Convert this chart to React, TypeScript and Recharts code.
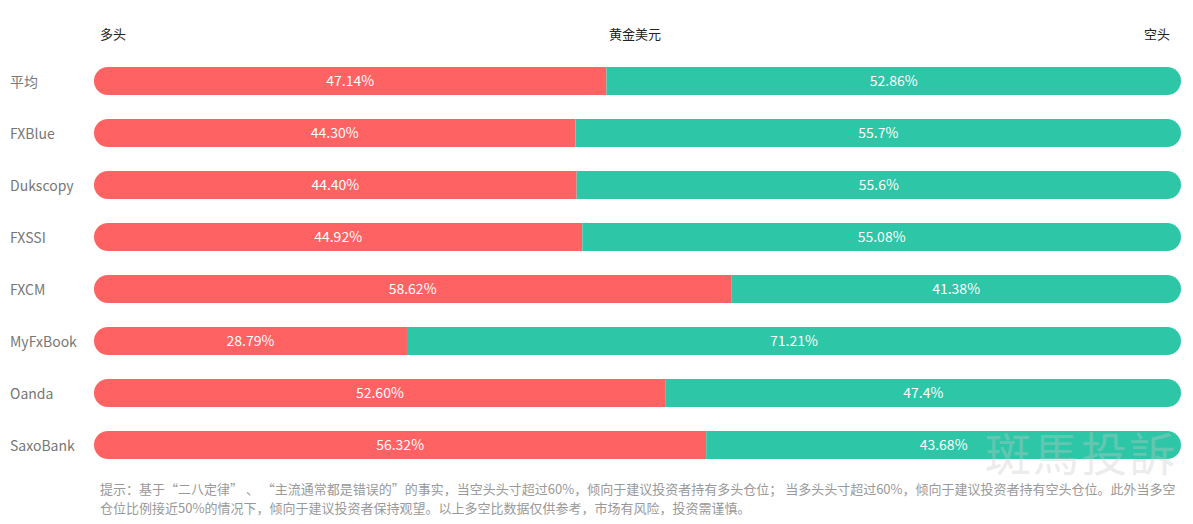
import React from "react";
import { BarChart, Bar, XAxis, YAxis, LabelList } from "recharts";

// broker sentiment for XAUUSD, long vs short (percent)
const brokers = ["平均", "FXBlue", "Dukscopy", "FXSSI", "FXCM", "MyFxBook", "Oanda", "SaxoBank"];
const longPct = [47.14, 44.3, 44.4, 44.92, 58.62, 28.79, 52.6, 56.32];
const shortPct = [52.86, 55.7, 55.6, 55.08, 41.38, 71.21, 47.4, 43.68];
const longLabels = ["47.14%", "44.30%", "44.40%", "44.92%", "58.62%", "28.79%", "52.60%", "56.32%"];
const shortLabels = ["52.86%", "55.7%", "55.6%", "55.08%", "41.38%", "71.21%", "47.4%", "43.68%"];

const FONT = '"Noto Sans CJK SC", "Microsoft YaHei", sans-serif';
const RED = "#FF6262";
const TEAL = "#2DC6A6";

const NOTE_1 =
  "提示：基于“二八定律” 、 “主流通常都是错误的”的事实，当空头头寸超过60%，倾向于建议投资者持有多头仓位； 当多头头寸超过60%，倾向于建议投资者持有空头仓位。此外当多空";
const NOTE_2 = "仓位比例接近50%的情况下，倾向于建议投资者保持观望。以上多空比数据仅供参考，市场有风险，投资需谨慎。";

const chartData = brokers.map((name, i) => ({
  name,
  long: longPct[i],
  short: shortPct[i],
  longLabel: longLabels[i],
  shortLabel: shortLabels[i],
}));

const CategoryTick = (props: any) => {
  const { y, payload } = props;
  return (
    <text x={10} y={y} dy={6} fill="#777" fontSize={14} fontFamily={FONT} textAnchor="start">
      {payload.value}
    </text>
  );
};

export default function App() {
  return (
    <div
      style={{
        position: "absolute",
        left: 0,
        top: 0,
        width: 1193,
        height: 524,
        background: "#fff",
        fontFamily: FONT,
        overflow: "hidden",
      }}
    >
      <div style={{ position: "absolute", left: 100, top: 24, fontSize: 13, color: "#222" }}>多头</div>
      <div
        style={{ position: "absolute", left: 0, width: 1270, top: 24, fontSize: 13, color: "#222", textAlign: "center" }}
      >
        黄金美元
      </div>
      <div style={{ position: "absolute", right: 23, top: 24, fontSize: 13, color: "#222" }}>空头</div>

      <BarChart
        width={1193}
        height={524}
        data={chartData}
        layout="vertical"
        margin={{ top: 55, right: 12, bottom: 53, left: 0 }}
        barSize={28}
      >
        <XAxis type="number" domain={[0, 100]} hide />
        <YAxis
          type="category"
          dataKey="name"
          width={94}
          axisLine={false}
          tickLine={false}
          tick={<CategoryTick />}
        />
        <Bar dataKey="long" stackId="a" fill={RED} radius={[14, 0, 0, 14]} isAnimationActive={false}>
          <LabelList dataKey="longLabel" position="center" fill="#fff" fontSize={14} fontFamily={FONT} />
        </Bar>
        <Bar dataKey="short" stackId="a" fill={TEAL} radius={[0, 14, 14, 0]} isAnimationActive={false}>
          <LabelList dataKey="shortLabel" position="center" fill="#fff" fontSize={14} fontFamily={FONT} />
        </Bar>
      </BarChart>

      <div
        style={{
          position: "absolute",
          left: 985,
          top: 418,
          fontSize: 46,
          letterSpacing: 2,
          color: "rgba(200,200,200,0.35)",
          pointerEvents: "none",
        }}
      >
        斑馬投訴
      </div>

      <div
        style={{
          position: "absolute",
          left: 100,
          top: 479,
          fontSize: 13,
          lineHeight: "19px",
          color: "#999",
        }}
      >
        <div style={{ whiteSpace: "pre" }}>{NOTE_1}</div>
        <div style={{ whiteSpace: "pre" }}>{NOTE_2}</div>
      </div>
    </div>
  );
}
